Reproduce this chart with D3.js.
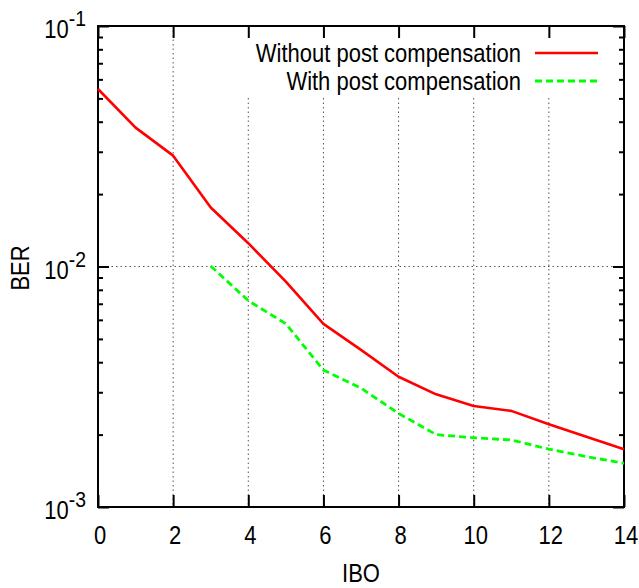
<!DOCTYPE html>
<html>
<head>
<meta charset="utf-8">
<script src="https://cdn.jsdelivr.net/npm/d3@7"></script>
<style>
  body { margin: 0; background: #fff; }
  svg { display: block; font-family: "Liberation Sans", Arial, Helvetica, sans-serif; }
</style>
</head>
<body>
<svg id="chart" width="639" height="588"></svg>
<script>
// data
const ibo = [0, 1, 2, 3, 4, 5, 6, 7, 8, 9, 10, 11, 12, 13, 14];
const berWithout = [0.0547, 0.0378, 0.0289, 0.0176, 0.0125, 0.00865, 0.00577, 0.00450,
                    0.00348, 0.00294, 0.00263, 0.00251, 0.00221, 0.00196, 0.00174];
const iboWith = [3, 4, 5, 6, 7, 8, 9, 10, 11, 12, 13, 14];
const berWith = [0.01005, 0.00721, 0.00578, 0.00371, 0.00312, 0.00245,
                 0.00200, 0.00194, 0.00190, 0.00174, 0.00162, 0.00152];
const xTicks = [0, 2, 4, 6, 8, 10, 12, 14];
const yTicks = [1e-1, 1e-2, 1e-3];
const yTickExp = ["-1", "-2", "-3"];
const seriesNames = ["Without post compensation", "With post compensation"];

const plotL = 98, plotR = 624, plotT = 26, plotB = 507;
const sx = 0.88; // text looks squeezed horizontally

const svg = d3.select("#chart");
const x = d3.scaleLinear().domain([0, 14]).range([plotL, plotR]);
const y = d3.scaleLog().domain([1e-3, 1e-1]).range([plotB, plotT]);

// minor ticks 2..9 of each decade
const yMinor = [];
[1e-3, 1e-2].forEach(d => { for (let k = 2; k <= 9; k++) yMinor.push(d * k); });

// grid
const grid = svg.append("g")
    .attr("stroke", "#555")
    .attr("stroke-width", 1)
    .attr("stroke-dasharray", "1.5,3");
grid.selectAll("line.v")
    .data(xTicks.filter(d => d > 0 && d < 14))
    .enter().append("line")
    .attr("x1", d => x(d)).attr("x2", d => x(d))
    .attr("y1", plotT).attr("y2", plotB);
grid.append("line")
    .attr("x1", plotL).attr("x2", plotR)
    .attr("y1", y(1e-2)).attr("y2", y(1e-2));

// legend background hides the grid under the key
svg.append("rect")
    .attr("x", 240).attr("y", plotT + 1)
    .attr("width", plotR - 241).attr("height", 71)
    .attr("fill", "#fff");

// axes with inward ticks
function styleAxis(g) {
  g.select(".domain").remove();
  g.selectAll("line").attr("stroke", "#000").attr("stroke-width", 2);
  g.selectAll("text").remove();
}
svg.append("g").attr("transform", `translate(0,${plotB})`)
    .call(d3.axisBottom(x).tickValues(xTicks).tickSize(-12)).call(styleAxis);
svg.append("g").attr("transform", `translate(0,${plotT})`)
    .call(d3.axisTop(x).tickValues(xTicks).tickSize(-12)).call(styleAxis);
svg.append("g").attr("transform", `translate(${plotL},0)`)
    .call(d3.axisLeft(y).tickValues(yTicks).tickSize(-11)).call(styleAxis);
svg.append("g").attr("transform", `translate(${plotR},0)`)
    .call(d3.axisRight(y).tickValues(yTicks).tickSize(-11)).call(styleAxis);
svg.append("g").attr("transform", `translate(${plotL},0)`)
    .call(d3.axisLeft(y).tickValues(yMinor).tickSize(-5)).call(styleAxis);
svg.append("g").attr("transform", `translate(${plotR},0)`)
    .call(d3.axisRight(y).tickValues(yMinor).tickSize(-5)).call(styleAxis);

// border
svg.append("rect")
    .attr("x", plotL).attr("y", plotT)
    .attr("width", plotR - plotL).attr("height", plotB - plotT)
    .attr("fill", "none").attr("stroke", "#000").attr("stroke-width", 2);

// series
const line = d3.line().x(d => x(d[0])).y(d => y(d[1]));
svg.append("path")
    .datum(ibo.map((v, i) => [v, berWithout[i]]))
    .attr("d", line)
    .attr("fill", "none").attr("stroke", "#ff0000").attr("stroke-width", 2.6)
    .attr("stroke-linejoin", "round");
svg.append("path")
    .datum(iboWith.map((v, i) => [v, berWith[i]]))
    .attr("d", line)
    .attr("fill", "none").attr("stroke", "#00ff00").attr("stroke-width", 2.8)
    .attr("stroke-dasharray", "7,4");

// text helper
function label(px, py, txt, anchor, size, rot) {
  return svg.append("text")
      .attr("transform", `translate(${px},${py}) ${rot ? "rotate(" + rot + ")" : ""} scale(${sx},1)`)
      .attr("text-anchor", anchor)
      .attr("font-size", size)
      .attr("fill", "#000")
      .text(txt);
}

// x tick labels
xTicks.forEach(d => label(x(d) + 2, 544, d, "middle", 25));

// y tick labels 10^n
yTicks.forEach((d, i) => {
  const t = svg.append("text")
      .attr("transform", `translate(86,${y(d) + 12}) scale(${sx},1)`)
      .attr("text-anchor", "end")
      .attr("font-size", 25);
  t.append("tspan").text("10");
  t.append("tspan").attr("dy", -12).attr("font-size", 22).text(yTickExp[i]);
});

// axis titles
label(361, 582, "IBO", "middle", 25);
label(29, 268, "BER", "middle", 25, -90);

// legend
const legendY = [53, 81];
seriesNames.forEach((name, i) => {
  label(521, legendY[i] + 9, name, "end", 25);
});
svg.append("line")
    .attr("x1", 535).attr("x2", 598).attr("y1", legendY[0]).attr("y2", legendY[0])
    .attr("stroke", "#ff0000").attr("stroke-width", 2.6);
svg.append("line")
    .attr("x1", 535).attr("x2", 598).attr("y1", legendY[1]).attr("y2", legendY[1])
    .attr("stroke", "#00ff00").attr("stroke-width", 2.8)
    .attr("stroke-dasharray", "7,4");
</script>
</body>
</html>
